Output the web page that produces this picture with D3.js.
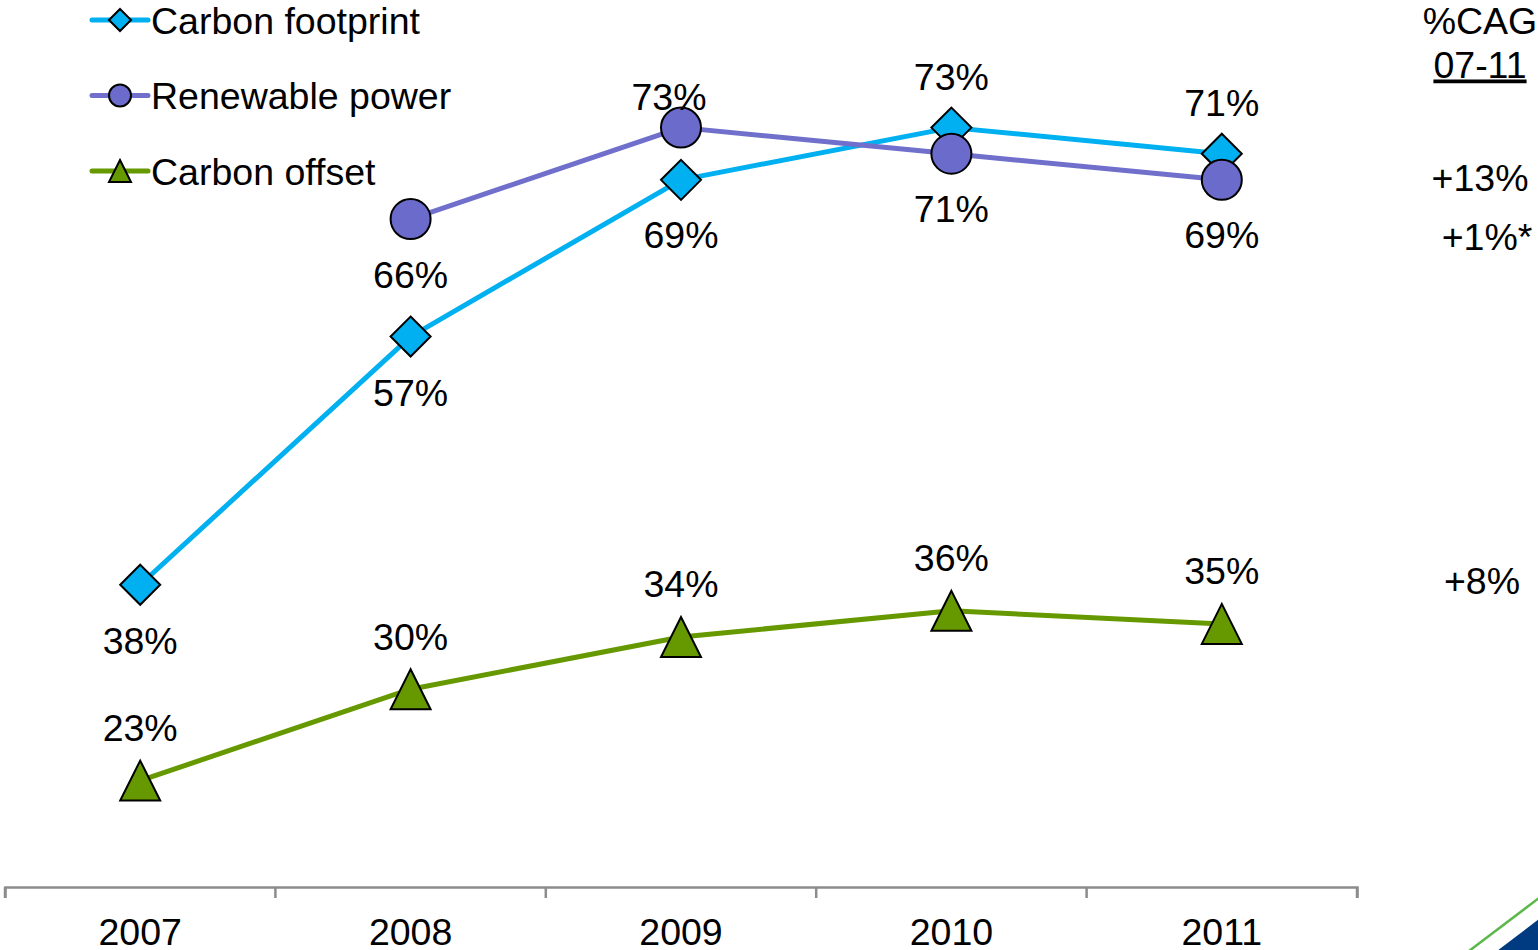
<!DOCTYPE html>
<html>
<head>
<meta charset="utf-8">
<script src="https://cdn.jsdelivr.net/npm/d3@7"></script>
<style>
  html, body { margin: 0; padding: 0; background: #fff; }
  svg { display: block; font-family: "Liberation Sans", Arial, sans-serif; }
</style>
</head>
<body>
<svg id="chart" width="1538" height="950"></svg>
<script>
// Survey results, share of respondents by year
const years = ["2007", "2008", "2009", "2010", "2011"];
const carbonFootprint = [38, 57, 69, 73, 71];
const renewablePower = [null, 66, 73, 71, 69];
const carbonOffset = [23, 30, 34, 36, 35];

// Label placement per point: negative above the marker, positive below (px)
const footprintLabelGap = [56, 56, 55, -51, -51];
const renewableLabelGap = [0, 55, -31, 55, 55];
const offsetLabelGap = [-53, -53, -53, -53, -53];
// horizontal nudge of a few labels
const renewableLabelShift = [0, 0, -12, 0, 0];

// Compound annual growth 2007-11
const cagHeader = ["%CAG", "07-11"];
const cagValues = ["+13%", "+1%*", "+8%"];

const svg = d3.select("#chart");
const fontSize = 37.5;

const x = d3.scaleBand().domain(years).range([5, 1357]);
const y = d3.scaleLinear().domain([0, 100]).range([1081, -225]);
const cx = d => x(d) + x.bandwidth() / 2;

// Category axis along the bottom
const axisY = 887;
const axis = d3.axisBottom(x).tickSize(11).tickSizeOuter(11).tickPadding(10);
const axisG = svg.append("g").attr("transform", `translate(0,${axisY})`).call(axis);
axisG.select(".domain").attr("stroke", "#8c8c8c").attr("stroke-width", 2.5);
axisG.selectAll(".tick line").remove();
// boundary ticks between categories
const bounds = d3.range(years.length + 1).map(i => 5 + i * x.step());
axisG.selectAll("line.bound").data(bounds).enter().append("line")
  .attr("x1", d => d).attr("x2", d => d).attr("y1", 0).attr("y2", 11)
  .attr("stroke", "#8c8c8c").attr("stroke-width", 2.5);
axisG.selectAll(".tick text")
  .attr("font-size", fontSize).attr("fill", "#000")
  .attr("font-family", "Liberation Sans, Arial, sans-serif")
  .attr("dy", "0").attr("y", 58);

const zeros = [0, 0, 0, 0, 0];
const series = [
  { name: "Carbon footprint", values: carbonFootprint, gaps: footprintLabelGap,
    shifts: zeros, line: "#00b0f0", fill: "#00b0f0", shape: "diamond" },
  { name: "Renewable power", values: renewablePower, gaps: renewableLabelGap,
    shifts: renewableLabelShift, line: "#7070cc", fill: "#6b6bcc", shape: "circle" },
  { name: "Carbon offset", values: carbonOffset, gaps: offsetLabelGap,
    shifts: zeros, line: "#669900", fill: "#669900", shape: "triangle" }
];

function marker(g, shape, size, fill) {
  const h = size / 2;
  if (shape === "diamond") {
    g.append("path").attr("d", `M0,${-h}L${h},0L0,${h}L${-h},0Z`);
  } else if (shape === "circle") {
    g.append("circle").attr("r", h);
  } else {
    g.append("path").attr("d", `M0,${-h}L${h},${h}L${-h},${h}Z`);
  }
  g.selectAll("path,circle").attr("fill", fill).attr("stroke", "#000").attr("stroke-width", 2);
}

const lineGen = d3.line()
  .defined(d => d.v != null)
  .x(d => cx(d.year))
  .y(d => y(d.v));

series.forEach(s => {
  const pts = years.map((yr, i) => ({ year: yr, v: s.values[i], gap: s.gaps[i], shift: s.shifts[i] }));
  const g = svg.append("g");
  g.append("path").datum(pts)
    .attr("d", lineGen)
    .attr("fill", "none")
    .attr("stroke", s.line)
    .attr("stroke-width", 5)
    .attr("stroke-linejoin", "round");
  const valid = pts.filter(d => d.v != null);
  g.selectAll("g.m").data(valid).enter().append("g")
    .attr("transform", d => `translate(${cx(d.year)},${y(d.v)})`)
    .each(function () { marker(d3.select(this), s.shape, 40, s.fill); });
  s.pts = valid;
});

// Value labels on top of all marks
series.forEach(s => {
  svg.append("g").selectAll("text").data(s.pts).enter().append("text")
    .attr("x", d => cx(d.year) + d.shift)
    .attr("y", d => y(d.v) + d.gap)
    .attr("dy", "0.36em")
    .attr("text-anchor", "middle")
    .attr("font-size", fontSize)
    .attr("fill", "#000")
    .text(d => d.v + "%");
});

// Legend
const legend = svg.append("g");
series.forEach((s, i) => {
  const ly = 20 + i * 75.5;
  const lg = legend.append("g").attr("transform", `translate(0,${ly})`);
  lg.append("line").attr("x1", 92).attr("x2", 148).attr("y1", 0).attr("y2", 0)
    .attr("stroke", s.line).attr("stroke-width", 5).attr("stroke-linecap", "round");
  marker(lg.append("g").attr("transform", "translate(120,0)"), s.shape, 22, s.fill);
  lg.append("text").attr("x", 151).attr("y", 0).attr("dy", "0.36em")
    .attr("font-size", fontSize).attr("fill", "#000").text(s.name);
});

// Growth annotations on the right
const cag = svg.append("g").attr("font-size", fontSize).attr("fill", "#000");
cag.append("text").attr("x", 1480).attr("y", 20).attr("dy", "0.36em")
  .attr("text-anchor", "middle").text(cagHeader[0]);
cag.append("text").attr("x", 1480).attr("y", 64).attr("dy", "0.36em")
  .attr("text-anchor", "middle").attr("text-decoration", "underline").text(cagHeader[1]);
const cagPos = [[1480, 177], [1487, 236], [1482, 580]];
cagValues.forEach((t, i) => {
  cag.append("text").attr("x", cagPos[i][0]).attr("y", cagPos[i][1]).attr("dy", "0.36em")
    .attr("text-anchor", "middle").text(t);
});

// Corner ornament
svg.append("path").attr("d", "M1497,951L1539,919L1539,951Z").attr("fill", "#003a80");
svg.append("line").attr("x1", 1469).attr("y1", 951).attr("x2", 1539).attr("y2", 898)
  .attr("stroke", "#5cb84a").attr("stroke-width", 2.5);
</script>
</body>
</html>
